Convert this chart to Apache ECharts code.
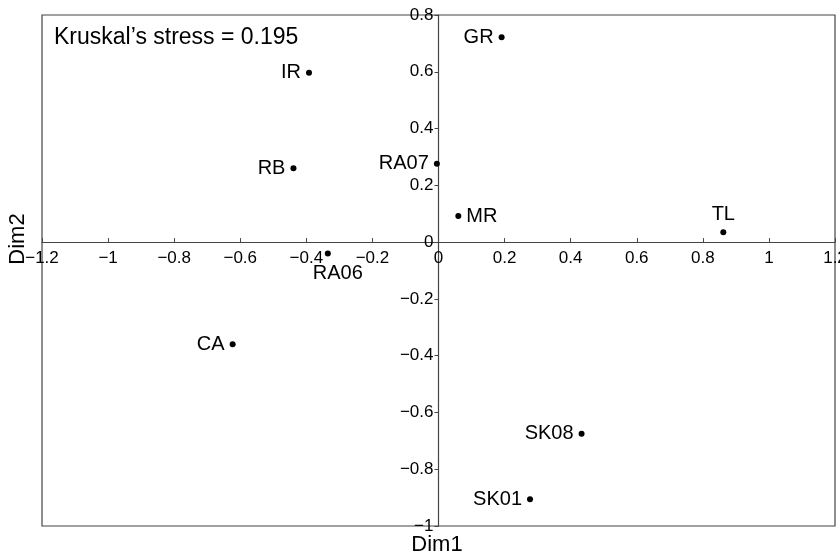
<!DOCTYPE html>
<html>
<head>
<meta charset="utf-8">
<script src="https://cdn.jsdelivr.net/npm/echarts@6/dist/echarts.min.js"></script>
<style>html,body{margin:0;padding:0;background:#fff;}#c{width:840px;height:555px;}</style>
</head>
<body>
<div id="c"></div>
<script>
const sites = ['IR','RB','RA07','RA06','GR','MR','TL','CA','SK08','SK01'];
const dim1 = [-0.392,-0.439,-0.005,-0.335,0.191,0.060,0.862,-0.623,0.433,0.277];
const dim2 = [0.597,0.260,0.276,-0.040,0.722,0.092,0.035,-0.360,-0.675,-0.906];
const xTicks = [-1.2,-1,-0.8,-0.6,-0.4,-0.2,0,0.2,0.4,0.6,0.8,1,1.2];
const yTicks = [-1,-0.8,-0.6,-0.4,-0.2,0,0.2,0.4,0.6,0.8];
const stressText = 'Kruskal\u2019s stress = 0.195';

const labelPlacement = {
  IR:{position:'left'}, RB:{position:'left'}, RA07:{position:'left'},
  RA06:{position:'bottom', offset:[10,2]}, GR:{position:'left'}, MR:{position:'right'},
  TL:{position:'top'}, CA:{position:'left'}, SK08:{position:'left'}, SK01:{position:'left'}
};

const FONT = 'Liberation Sans, Arial, Helvetica, sans-serif';
const INK = '#000';
const fmt = v => String(v).replace('-', '\u2212');

const chart = echarts.init(document.getElementById('c'), null, {renderer:'canvas'});
const option = {
  animation:false,
  grid:{left:42, right:5, top:15, bottom:29, show:true, borderColor:'#444', borderWidth:1.2,
        backgroundColor:'transparent', outerBoundsMode:'none', containLabel:false},
  xAxis:{
    type:'value', min:xTicks[0], max:xTicks[xTicks.length-1], interval:0.2,
    axisLine:{onZero:false, lineStyle:{color:'#444', width:1.2}},
    axisTick:{inside:true, length:4, lineStyle:{color:'#444'}},
    axisLabel:{formatter:fmt, color:INK, fontSize:17, fontFamily:FONT, margin:8, showMinLabel:true, showMaxLabel:true, hideOverlap:false},
    splitLine:{show:false}
  },
  yAxis:{
    type:'value', min:yTicks[0], max:yTicks[yTicks.length-1], interval:0.2,
    axisLine:{onZero:false, lineStyle:{color:'#444', width:1.2}},
    axisTick:{inside:false, length:4, lineStyle:{color:'#444'}},
    axisLabel:{formatter:fmt, color:INK, fontSize:17, fontFamily:FONT, margin:5, showMinLabel:true, showMaxLabel:true, hideOverlap:false},
    splitLine:{show:false}
  },
  graphic:[
    {type:'text', x:54, y:38, style:{text:stressText, font:'23px '+FONT, fill:INK, textVerticalAlign:'middle', verticalAlign:'middle'}},
    {type:'text', x:437, y:545, style:{text:'Dim1', font:'22px '+FONT, fill:INK, align:'center', verticalAlign:'middle', textAlign:'center', textVerticalAlign:'middle'}},
    {type:'text', x:18, y:239, rotation:Math.PI/2, style:{text:'Dim2', font:'22px '+FONT, fill:INK, align:'center', verticalAlign:'middle', textAlign:'center', textVerticalAlign:'middle'}}
  ],
  series:[{
    type:'scatter',
    symbol:'circle', symbolSize:6,
    itemStyle:{color:'#000', opacity:1},
    label:{show:true, formatter:'{b}', color:INK, opacity:1, fontSize:20, fontFamily:FONT, distance:5, textBorderWidth:0},
    data: sites.map((s,i)=>({name:s, value:[dim1[i], dim2[i]], label:labelPlacement[s]}))
  }]
};
chart.setOption(option);
// move the axes to cross at zero using the library's own scales
const p0 = chart.convertToPixel({gridIndex:0}, [0,0]);
const pMin = chart.convertToPixel({gridIndex:0}, [xTicks[0], yTicks[0]]);
chart.setOption({
  xAxis:{offset: p0[1] - pMin[1]},
  yAxis:{offset: -(p0[0] - pMin[0])}
});
</script>
</body>
</html>
